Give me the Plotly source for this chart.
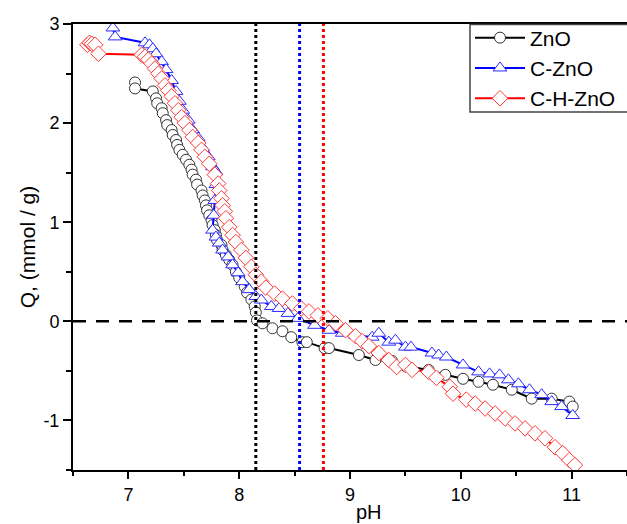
import plotly.graph_objects as go

# ---- data ----
zno_ph = [7.06, 7.06, 7.22, 7.25, 7.26, 7.30, 7.31, 7.34, 7.35, 7.39, 7.40, 7.43, 7.44, 7.46, 7.49,
          7.52, 7.55, 7.57, 7.58, 7.61, 7.62, 7.66, 7.67, 7.69, 7.70, 7.71, 7.73, 7.75, 7.76, 7.78,
          7.79, 7.80, 7.84, 7.85, 7.88, 7.91, 7.94, 7.97, 8.00, 8.05, 8.07, 8.11, 8.14, 8.15, 8.16,
          8.21, 8.30, 8.39, 8.47, 8.57, 8.61, 8.77, 8.81, 9.08, 9.23, 9.38, 9.50, 9.71, 9.86, 10.02,
          10.16, 10.29, 10.46, 10.64, 10.82, 10.98, 11.01]
zno_q = [2.41, 2.35, 2.32, 2.25, 2.20, 2.15, 2.10, 2.03, 1.98, 1.93, 1.88, 1.83, 1.78, 1.73, 1.68,
         1.63, 1.58, 1.53, 1.48, 1.43, 1.38, 1.32, 1.27, 1.22, 1.17, 1.12, 1.07, 1.02, 0.97, 0.92,
         0.87, 0.82, 0.77, 0.72, 0.67, 0.62, 0.57, 0.50, 0.44, 0.35, 0.29, 0.22, 0.15, 0.09, 0.01,
         -0.02, -0.07, -0.10, -0.16, -0.21, -0.21, -0.27, -0.27, -0.34, -0.39, -0.40, -0.45, -0.49, -0.54, -0.58,
         -0.61, -0.64, -0.69, -0.78, -0.78, -0.81, -0.86]

czno_ph = [6.86, 6.88, 7.15, 7.19, 7.22, 7.25, 7.30, 7.34, 7.39, 7.43, 7.46, 7.49, 7.54, 7.58, 7.63,
           7.67, 7.72, 7.76, 7.79, 7.79, 7.78, 7.77, 7.76, 7.79, 7.82, 7.85, 7.90, 7.94, 7.99, 8.03,
           8.09, 8.15, 8.20, 8.29, 8.36, 8.44, 8.53, 8.68, 8.81, 8.93, 9.05, 9.20, 9.26, 9.35, 9.41,
           9.50, 9.55, 9.74, 9.80, 9.87, 10.02, 10.16, 10.26, 10.35, 10.43, 10.52, 10.62, 10.73, 10.82,
           10.91, 11.01]
czno_q = [2.96, 2.87, 2.81, 2.79, 2.75, 2.70, 2.62, 2.54, 2.43, 2.32, 2.22, 2.13, 2.03, 1.93, 1.85,
          1.75, 1.66, 1.56, 1.51, 1.38, 1.22, 1.07, 0.92, 0.85, 0.79, 0.72, 0.65, 0.57, 0.49, 0.40,
          0.32, 0.25, 0.215, 0.15, 0.13, 0.08, 0.03, -0.04, -0.09, -0.12, -0.14, -0.16, -0.12, -0.21, -0.19,
          -0.26, -0.26, -0.32, -0.34, -0.36, -0.44, -0.51, -0.53, -0.54, -0.59, -0.63, -0.69, -0.74, -0.81,
          -0.86, -0.95]

chzno_ph = [6.63, 6.65, 6.67, 6.70, 6.73, 7.12, 7.15, 7.18, 7.21, 7.24, 7.27, 7.30, 7.33, 7.36, 7.39, 7.42,
            7.45, 7.48, 7.51, 7.55, 7.58, 7.63, 7.66, 7.69, 7.73, 7.78, 7.81, 7.82, 7.84, 7.85, 7.87,
            7.88, 7.91, 7.94, 7.97, 8.02, 8.06, 8.11, 8.15, 8.20, 8.24, 8.32, 8.39, 8.48, 8.56, 8.63,
            8.71, 8.80, 8.87, 8.96, 9.05, 9.11, 9.17, 9.26, 9.35, 9.42, 9.50, 9.56, 9.71, 9.78, 9.90,
            9.93, 10.05, 10.13, 10.22, 10.31, 10.40, 10.49, 10.58, 10.67, 10.76, 10.85, 10.92, 10.98, 11.03]
chzno_q = [2.79, 2.81, 2.80, 2.79, 2.70, 2.69, 2.67, 2.64, 2.60, 2.55, 2.50, 2.45, 2.38, 2.33, 2.27, 2.20,
           2.13, 2.06, 2.00, 1.93, 1.86, 1.80, 1.73, 1.66, 1.59, 1.48, 1.39, 1.32, 1.24, 1.17, 1.11,
           1.04, 0.95, 0.87, 0.80, 0.72, 0.64, 0.55, 0.47, 0.40, 0.34, 0.28, 0.23, 0.18, 0.13, 0.10,
           0.06, 0.03, -0.02, -0.09, -0.15, -0.20, -0.25, -0.32, -0.39, -0.46, -0.44, -0.49, -0.51, -0.57, -0.66,
           -0.73, -0.79, -0.83, -0.88, -0.93, -0.98, -1.03, -1.08, -1.13, -1.18, -1.27, -1.33, -1.40, -1.45]

pzc_values = [8.15, 8.545, 8.76]
pzc_colors = ["black", "#0000ff", "#ff0000"]

x_ticks = [7, 8, 9, 10, 11]
x_ticklabels = ["7", "8", "9", "10", "11"]
y_ticks = [-1, 0, 1, 2, 3]
y_ticklabels = ["-1", "0", "1", "2", "3"]

series = [
    ("ZnO", zno_ph, zno_q, "black", "#333333", "circle", 11),
    ("C-ZnO", czno_ph, czno_q, "#0000ff", "#2a2aff", "triangle-up", 12),
    ("C-H-ZnO", chzno_ph, chzno_q, "#ff0000", "#ff3a3a", "diamond", 12),
]

FONT = "Liberation Sans, Arial, sans-serif"
PLOT_W = 627 - 73
PLOT_H = 470 - 24

fig = go.Figure()
for name, xs, ys, lc, mc, sym, sz in series:
    fig.add_trace(go.Scatter(
        x=xs, y=ys, name=name, mode="lines+markers",
        line=dict(color=lc, width=2),
        marker=dict(symbol=sym, size=sz, color="white",
                    line=dict(color=mc, width=1)),
    ))

shapes = []
for v, c in zip(pzc_values, pzc_colors):
    shapes.append(dict(type="line", xref="x", yref="y domain", x0=v, x1=v, y0=0, y1=1,
                       line=dict(color=c, width=3, dash="dot"), layer="above"))
shapes.append(dict(type="line", xref="x domain", yref="y", x0=0, x1=1, y0=0, y1=0,
                   line=dict(color="black", width=2.5, dash="13px,10px"), layer="above"))
# legend frame
shapes.append(dict(type="rect", xref="paper", yref="paper",
                   x0=(470 - 73) / PLOT_W, x1=1.1,
                   y0=1 - (112 - 24) / PLOT_H, y1=1 - (24.5 - 24) / PLOT_H,
                   line=dict(color="#444444", width=1.5), fillcolor="white", layer="above"))

fig.update_layout(
    width=627, height=524,
    margin=dict(l=73, r=0, t=24, b=54),
    paper_bgcolor="white", plot_bgcolor="white",
    font=dict(family=FONT, color="black", size=18),
    shapes=shapes,
    legend=dict(
        x=(470 - 73) / PLOT_W, y=1 - (17.5 - 24) / PLOT_H, xanchor="left", yanchor="top",
        bgcolor="rgba(0,0,0,0)", borderwidth=0,
        font=dict(size=21, family=FONT, color="black"),
        itemwidth=50, tracegroupgap=0,
    ),
    showlegend=True,
    annotations=[dict(text="pH", xref="paper", yref="paper",
                      x=(369 - 73) / PLOT_W, y=-(499 - 470) / PLOT_H,
                      xanchor="center", yanchor="top", showarrow=False,
                      font=dict(size=20, family=FONT, color="black"))],
)

fig.update_xaxes(
    range=[6.5, 11.5], tickmode="array", tickvals=x_ticks, ticktext=x_ticklabels,
    showline=True, linecolor="black", linewidth=2, mirror=True,
    ticks="outside", ticklen=7, tickwidth=2, tickcolor="black",
    minor=dict(tickmode="linear", dtick=0.5, tick0=6.5, ticks="outside", ticklen=4, tickwidth=2, tickcolor="black"),
    showgrid=False, zeroline=False,
    tickfont=dict(size=18), ticklabelstandoff=0,
)
fig.update_yaxes(
    range=[-1.5, 3], tickmode="array", tickvals=y_ticks, ticktext=y_ticklabels,
    showline=True, linecolor="black", linewidth=2, mirror=False,
    ticks="outside", ticklen=8, tickwidth=2, tickcolor="black",
    minor=dict(tickmode="linear", dtick=0.5, tick0=-1.5, ticks="outside", ticklen=5, tickwidth=2, tickcolor="black"),
    showgrid=False, zeroline=False,
    tickfont=dict(size=18),
    title=dict(text="Q, (mmol / g)", font=dict(size=21), standoff=2),
)

fig.write_html("out.html")
